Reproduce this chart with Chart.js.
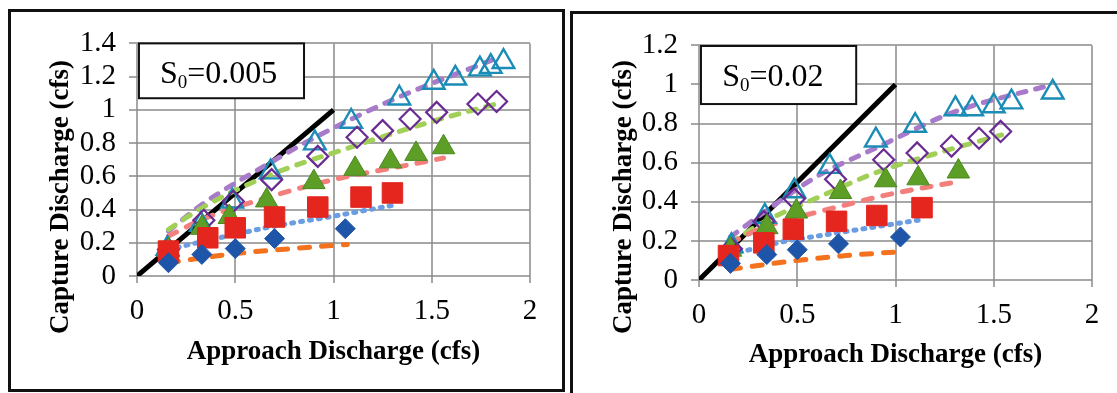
<!DOCTYPE html>
<html>
<head>
<meta charset="utf-8">
<script src="https://cdn.jsdelivr.net/npm/chart.js@4.4.1/dist/chart.umd.min.js"></script>
<style>
  html, body { margin: 0; padding: 0; background: #fff; }
  body { width: 1117px; height: 393px; position: relative; overflow: hidden; }
  .panel { position: absolute; box-sizing: border-box; border: 3px solid #111; }
  #panelA { left: 8px; top: 9px; width: 557px; height: 383px; }
  #panelB { left: 570px; top: 11px; width: 560px; height: 400px; }
  canvas { position: absolute; }
  #chartA { left: 12px; top: 13px; }
  #chartB { left: 575px; top: 15px; }
</style>
</head>
<body>
<div class="panel" id="panelA"></div>
<div class="panel" id="panelB"></div>
<canvas id="chartA" width="548" height="373"></canvas>
<canvas id="chartB" width="540" height="373"></canvas>
<script>
const serif = "Liberation Serif";

// tick labels
const xTicks = [0, 0.5, 1, 1.5, 2];
const yTicksA = [0, 0.2, 0.4, 0.6, 0.8, 1, 1.2, 1.4];
const yTicksB = [0, 0.2, 0.4, 0.6, 0.8, 1, 1.2];

// line of equality (capture = approach)
const equalX = [0, 1];
const equalY = [0, 1];

// S0 = 0.005 measured points
const aDiamondX = [0.16, 0.33, 0.5, 0.7, 1.06];
const aDiamondY = [0.08, 0.13, 0.165, 0.225, 0.285];
const aSquareX = [0.16, 0.36, 0.5, 0.7, 0.92, 1.14, 1.3];
const aSquareY = [0.15, 0.23, 0.29, 0.355, 0.415, 0.475, 0.5];
const aTriangleX = [0.16, 0.33, 0.47, 0.66, 0.9, 1.11, 1.29, 1.42, 1.56];
const aTriangleY = [0.155, 0.29, 0.355, 0.455, 0.565, 0.645, 0.69, 0.735, 0.775];
const aOpenDiamondX = [0.16, 0.34, 0.49, 0.685, 0.92, 1.12, 1.25, 1.39, 1.525, 1.735, 1.83];
const aOpenDiamondY = [0.16, 0.335, 0.45, 0.58, 0.72, 0.835, 0.875, 0.945, 0.985, 1.035, 1.05];
const aOpenTriangleX = [0.155, 0.325, 0.485, 0.68, 0.905, 1.09, 1.335, 1.51, 1.62, 1.745, 1.8, 1.865];
const aOpenTriangleY = [0.165, 0.31, 0.45, 0.625, 0.8, 0.93, 1.07, 1.165, 1.19, 1.245, 1.26, 1.29];

// S0 = 0.005 trend lines
const aOrangeX = [0.16, 0.5, 0.9, 1.07];
const aOrangeY = [0.08, 0.135, 0.175, 0.19];
const aBlueX = [0.16, 0.4, 0.7, 1.0, 1.3];
const aBlueY = [0.16, 0.225, 0.3, 0.36, 0.425];
const aSalmonX = [0.16, 0.33, 0.6, 1.0, 1.3, 1.56];
const aSalmonY = [0.24, 0.34, 0.45, 0.58, 0.65, 0.71];
const aGreenX = [0.16, 0.33, 0.66, 1.1, 1.5, 1.84];
const aGreenY = [0.28, 0.41, 0.6, 0.78, 0.93, 1.04];
const aPurpleX = [0.16, 0.33, 0.66, 0.9, 1.3, 1.85];
const aPurpleY = [0.27, 0.43, 0.67, 0.83, 1.06, 1.32];

// S0 = 0.02 measured points
const bDiamondX = [0.16, 0.345, 0.5, 0.71, 1.025];
const bDiamondY = [0.085, 0.13, 0.155, 0.185, 0.22];
const bSquareX = [0.15, 0.33, 0.48, 0.7, 0.905, 1.135];
const bSquareY = [0.125, 0.19, 0.26, 0.3, 0.33, 0.37];
const bTriangleX = [0.16, 0.345, 0.495, 0.72, 0.95, 1.115, 1.32];
const bTriangleY = [0.155, 0.27, 0.35, 0.45, 0.51, 0.52, 0.555];
const bOpenDiamondX = [0.165, 0.33, 0.485, 0.695, 0.94, 1.11, 1.285, 1.425, 1.535];
const bOpenDiamondY = [0.16, 0.3, 0.415, 0.515, 0.615, 0.65, 0.685, 0.725, 0.76];
const bOpenTriangleX = [0.165, 0.335, 0.485, 0.665, 0.9, 1.1, 1.305, 1.39, 1.5, 1.59, 1.8];
const bOpenTriangleY = [0.175, 0.325, 0.455, 0.58, 0.715, 0.79, 0.875, 0.875, 0.89, 0.91, 0.96];

// S0 = 0.02 trend lines
const bOrangeX = [0.16, 0.5, 0.75, 1.03];
const bOrangeY = [0.055, 0.1, 0.125, 0.145];
const bBlueX = [0.16, 0.4, 0.7, 1.14];
const bBlueY = [0.13, 0.19, 0.24, 0.31];
const bSalmonX = [0.16, 0.33, 0.5, 0.75, 0.95, 1.3];
const bSalmonY = [0.19, 0.27, 0.32, 0.385, 0.434, 0.5];
const bGreenX = [0.16, 0.327, 0.6, 0.918, 1.25, 1.54];
const bGreenY = [0.19, 0.295, 0.42, 0.556, 0.66, 0.742];
const bPurpleX = [0.16, 0.35, 0.6, 0.9, 1.3, 1.8];
const bPurpleY = [0.22, 0.36, 0.53, 0.675, 0.86, 1.0];

const pts = (xs, ys) => xs.map((x, i) => ({ x: x, y: ys[i] }));

// filled / open markers, drawn on top of the lines
const marker = (data, style, radius, fill, stroke, width) => ({
  data: data,
  pointStyle: style,
  pointRadius: radius,
  pointHoverRadius: radius,
  backgroundColor: fill,
  borderColor: stroke,
  pointBorderWidth: width,
  showLine: false,
  order: 0,
});

// fitted curves
const trend = (data, color, dash) => ({
  data: data,
  showLine: true,
  borderColor: color,
  borderWidth: 5,
  borderDash: dash,
  borderCapStyle: "round",
  pointRadius: 0,
  fill: false,
  cubicInterpolationMode: "monotone",
  order: 1,
});

const datasetsFor = (p) => [
  marker(pts(p.dx, p.dy), "rectRot", 10, "#1f55a8", "#1f55a8", 1),
  marker(pts(p.sx, p.sy), "rect", 14.5, "#e4261f", "#e4261f", 1),
  marker(pts(p.tx, p.ty), "triangle", 13, "#5c9e26", "#4b8a1e", 1),
  marker(pts(p.odx, p.ody), "rectRot", 10.5, "rgba(0,0,0,0)", "#6a2c93", 2.2),
  marker(pts(p.otx, p.oty), "triangle", 12.5, "rgba(0,0,0,0)", "#1a8cb6", 2.4),
  trend(pts(p.ox, p.oy), "#f4711e", [10, 12]),
  trend(pts(p.bx, p.by), "#6b9de2", [2, 7]),
  trend(pts(p.rx, p.ry), "#f27f7c", [9, 11]),
  trend(pts(p.gx, p.gy), "#a2cf58", [8, 10]),
  trend(pts(p.px, p.py), "#a77bca", [8, 10]),
  {
    data: pts(equalX, equalY),
    showLine: true,
    borderColor: "#000",
    borderWidth: 5,
    pointRadius: 0,
    order: 2,
  },
];

// grid through the scales, slope label box, rotated y title
const panelText = {
  id: "panelText",
  beforeDatasetsDraw(chart, args, opts) {
    const ctx = chart.ctx;
    const xs = chart.scales.x;
    const ys = chart.scales.y;
    const top = ys.getPixelForValue(opts.yGrid[opts.yGrid.length - 1]);
    const bottom = ys.getPixelForValue(0);
    const left = xs.getPixelForValue(0);
    const right = xs.getPixelForValue(opts.xGrid[opts.xGrid.length - 1]);
    ctx.save();

    // grey grid with short tick marks outside the plot
    ctx.strokeStyle = "#8a8a8a";
    ctx.lineWidth = 1.5;
    opts.xGrid.forEach((v) => {
      const px = Math.round(xs.getPixelForValue(v));
      ctx.beginPath();
      ctx.moveTo(px, top);
      ctx.lineTo(px, bottom + 7);
      ctx.stroke();
    });
    opts.yGrid.forEach((v) => {
      const py = Math.round(ys.getPixelForValue(v));
      ctx.beginPath();
      ctx.moveTo(left - 8, py);
      ctx.lineTo(right, py);
      ctx.stroke();
    });

    const x0 = xs.getPixelForValue(opts.box[0]);
    const x1 = xs.getPixelForValue(opts.box[1]);
    const y0 = ys.getPixelForValue(opts.box[2]);
    const y1 = ys.getPixelForValue(opts.box[3]);
    ctx.fillStyle = "#fff";
    ctx.fillRect(x0, y0, x1 - x0, y1 - y0);
    ctx.strokeStyle = "#111";
    ctx.lineWidth = 2;
    ctx.strokeRect(x0, y0, x1 - x0, y1 - y0);

    let tx = xs.getPixelForValue(opts.textAt[0]);
    const base = ys.getPixelForValue(opts.textAt[1]);
    ctx.fillStyle = "#000";
    ctx.textBaseline = "alphabetic";
    ctx.textAlign = "left";
    ctx.font = "32px '" + serif + "'";
    ctx.fillText("S", tx, base);
    tx += ctx.measureText("S").width;
    ctx.font = "19px '" + serif + "'";
    ctx.fillText("0", tx, base + 5);
    tx += ctx.measureText("0").width;
    ctx.font = "32px '" + serif + "'";
    ctx.fillText(opts.value, tx, base);
    ctx.restore();
  },
  afterDraw(chart, args, opts) {
    const ctx = chart.ctx;
    ctx.save();
    ctx.translate(opts.yTitle[0], opts.yTitle[1]);
    ctx.rotate(-Math.PI / 2);
    ctx.textAlign = "center";
    ctx.textBaseline = "middle";
    ctx.fillStyle = "#000";
    ctx.font = "bold 27px '" + serif + "'";
    ctx.fillText("Capture Discharge (cfs)", 0, 0);
    ctx.restore();
  },
};

function drawPanel(id, datasets, yTicks, yMax, look) {
  return new Chart(document.getElementById(id), {
    type: "scatter",
    data: { datasets: datasets },
    options: {
      responsive: false,
      animation: false,
      layout: { padding: { top: look.padTop, right: look.padRight, left: 0, bottom: 0 } },
      plugins: {
        legend: { display: false },
        tooltip: { enabled: false },
        panelText: Object.assign({ xGrid: xTicks, yGrid: yTicks }, look.text),
      },
      scales: {
        x: {
          min: 0,
          max: 2,
          afterBuildTicks: (s) => { s.ticks = xTicks.map((v) => ({ value: v })); },
          afterFit: (s) => { s.height = look.xHeight; },
          grid: { display: false },
          border: { display: false },
          ticks: {
            autoSkip: false,
            color: "#000",
            padding: 10,
            font: { family: serif, size: 29 },
            callback: (v) => String(v),
          },
          title: {
            display: true,
            text: "Approach Discharge (cfs)",
            color: "#000",
            font: { family: serif, size: 27, weight: "bold" },
            padding: { top: 0, bottom: look.titlePad },
          },
        },
        y: {
          min: 0,
          max: yMax,
          afterBuildTicks: (s) => { s.ticks = yTicks.map((v) => ({ value: v })); },
          afterFit: (s) => { s.width = look.yWidth; },
          grid: { display: false },
          border: { display: false },
          ticks: {
            autoSkip: false,
            color: "#000",
            padding: 13,
            font: { family: serif, size: 29 },
            callback: (v) => String(v),
          },
        },
      },
    },
    plugins: [panelText],
  });
}

drawPanel(
  "chartA",
  datasetsFor({
    dx: aDiamondX, dy: aDiamondY, sx: aSquareX, sy: aSquareY, tx: aTriangleX, ty: aTriangleY,
    odx: aOpenDiamondX, ody: aOpenDiamondY, otx: aOpenTriangleX, oty: aOpenTriangleY,
    ox: aOrangeX, oy: aOrangeY, bx: aBlueX, by: aBlueY, rx: aSalmonX, ry: aSalmonY,
    gx: aGreenX, gy: aGreenY, px: aPurpleX, py: aPurpleY,
  }),
  yTicksA,
  1.4,
  {
    padTop: 30, padRight: 30, yWidth: 125, xHeight: 110, titlePad: 18,
    text: { box: [0.01, 0.85, 1.4, 1.07], textAt: [0.117, 1.16], value: "=0.005", yTitle: [49, 184] },
  }
);

drawPanel(
  "chartB",
  datasetsFor({
    dx: bDiamondX, dy: bDiamondY, sx: bSquareX, sy: bSquareY, tx: bTriangleX, ty: bTriangleY,
    odx: bOpenDiamondX, ody: bOpenDiamondY, otx: bOpenTriangleX, oty: bOpenTriangleY,
    ox: bOrangeX, oy: bOrangeY, bx: bBlueX, by: bBlueY, rx: bSalmonX, ry: bSalmonY,
    gx: bGreenX, gy: bGreenY, px: bPurpleX, py: bPurpleY,
  }),
  yTicksB,
  1.2,
  {
    padTop: 29.5, padRight: 23, yWidth: 124, xHeight: 108, titlePad: 17,
    text: { box: [0.01, 0.8, 1.197, 0.9], textAt: [0.118, 0.99], value: "=0.02", yTitle: [49, 182] },
  }
);
</script>
</body>
</html>
